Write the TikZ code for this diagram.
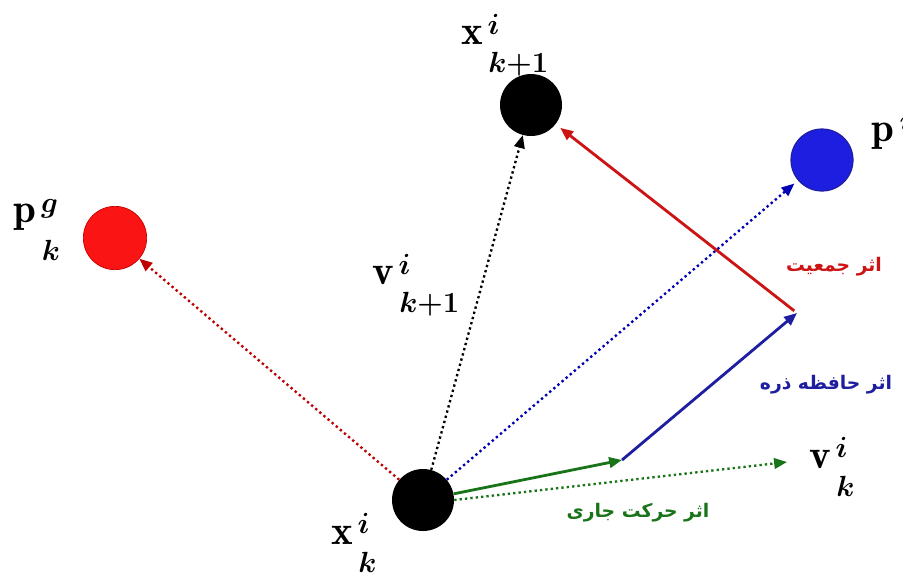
\documentclass[tikz,border=0pt]{standalone}
\usepackage{fontspec}
\usetikzlibrary{arrows.meta}
\newfontfamily\arabicfont[Script=Arabic]{DejaVu Sans}
\TeXXeTstate=1
\definecolor{cred}{RGB}{205,20,20}
\definecolor{cblue}{RGB}{30,30,160}
\definecolor{cgreen}{RGB}{25,115,25}
\definecolor{ballred}{RGB}{250,20,20}
\definecolor{ballblue}{RGB}{30,30,225}
\newcommand{\veclab}[4][-0.5em]{$\mathbf{#2}^{\,\mbox{\boldmath$\scriptstyle #3$}}_{\raisebox{#1}{\boldmath$\scriptstyle\,#4$}}$}
\tikzset{
  ball/.style={circle, inner sep=0pt, minimum size=1.86cm},
  mathlab/.style={font=\fontsize{35}{38}\selectfont, inner sep=0pt},
  arlab/.style={font=\arabicfont\bfseries\fontsize{16}{18}\selectfont, inner sep=0pt},
  tip/.style={-{Triangle[length=11pt,width=9pt]}},
  dots/.style={tip, line width=2pt, dash pattern=on 2pt off 2.6pt},
  solidarr/.style={tip, line width=2.4pt}
}
\begin{document}
\begin{tikzpicture}[x=0.03cm,y=-0.03cm]
\useasboundingbox (0,0) rectangle (903,579);
% balls
\node[ball, fill=black] (xk) at (423,500) {};
\node[ball, fill=black] (xk1) at (531,105) {};
\node[ball, fill=ballblue, draw=cblue, line width=1pt] (pi) at (822,160) {};
\node[ball, fill=ballred, draw=red!80!black, line width=0.6pt, minimum size=1.9cm] (pg) at (115,238) {};
% free coordinates
\coordinate (m1) at (622,460);
\coordinate (m2) at (797,313);
\coordinate (vk) at (787,462);
% dotted vectors
\draw[dots, red!75!black] (xk) -- (pg);
\draw[dots, black] (xk) -- (xk1);
\draw[dots, blue!70!black, shorten >=4pt] (xk) -- (pi);
\draw[dots, cgreen] (xk.east) -- (vk);
% solid chain
\draw[solidarr, cgreen] (xk) -- (m1);
\draw[solidarr, cblue] (m1) -- (m2);
\draw[solidarr, cred, shorten <=3pt, shorten >=5pt] (m2) -- (xk1);
% math labels
\node[mathlab] (lxk) at (354,543) {\veclab{x}{i}{k}};
\node[mathlab] (lxk1) at (505,45) {\veclab{x}{i}{k+1}};
\node[mathlab] (lpg) at (37,230) {\veclab[-0.75em]{p}{g}{k}};
\node[mathlab] (lpi) at (892,140) {\veclab{p}{i}{}};
\node[mathlab] (lvk) at (832,467) {\veclab{v}{i}{k}};
\node[mathlab] (lvk1) at (416,285) {\veclab{v}{i}{k+1}};
% arabic labels
\node[arlab, text=cred] (t1) at (834,267) {\beginR اثر جمعیت\endR};
\node[arlab, text=cblue] (t2) at (826,385) {\beginR اثر حافظه ذره\endR};
\node[arlab, text=cgreen] (t3) at (638,513) {\beginR اثر حرکت جاری\endR};
\end{tikzpicture}
\end{document}
